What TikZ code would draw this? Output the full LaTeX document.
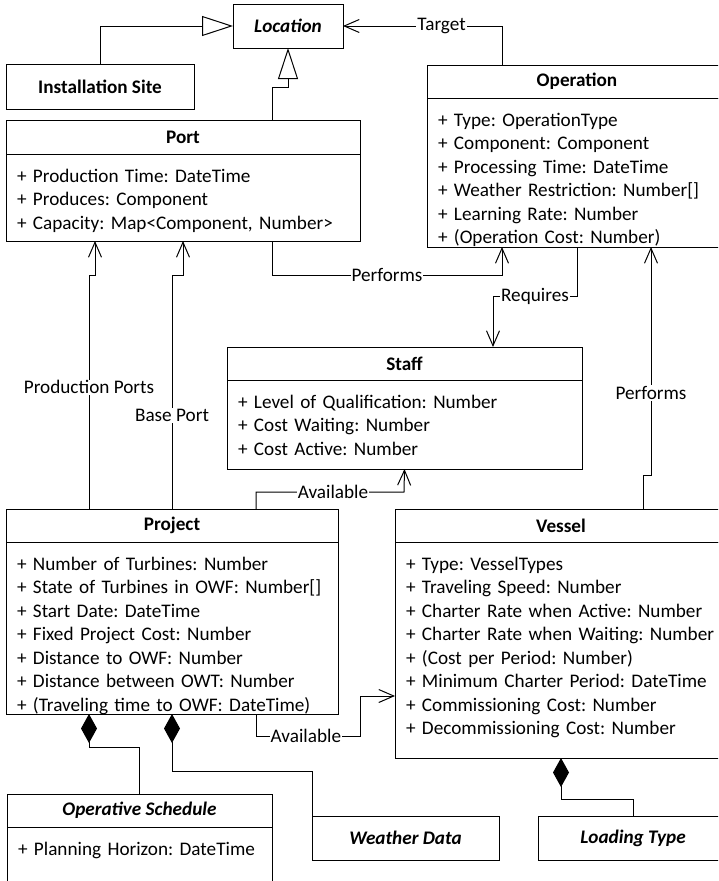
\documentclass[tikz,border=0pt]{standalone}
\usepackage{fontspec}
\setmainfont{Carlito}
\frenchspacing
\usetikzlibrary{positioning,arrows.meta}

\begin{document}
\begin{tikzpicture}[x=1pt, y=-1pt,
    uml/.style={draw, line width=1pt, outer sep=0pt, font=\fontsize{19.2pt}{23.5pt}\selectfont},
    head/.style={uml, anchor=north west, minimum height=33pt, font=\fontsize{19.2pt}{23.5pt}\selectfont\bfseries},
    abstract/.style={font=\fontsize{19.2pt}{23.5pt}\selectfont\bfseries\itshape},
    attr/.style={uml, align=left, inner xsep=11pt, inner ysep=0pt, text height=28pt,
        execute at begin node={\hyphenpenalty=10000\exhyphenpenalty=10000}},
    lbl/.style={fill=white, inner sep=1pt, font=\fontsize{19.2pt}{23.5pt}\selectfont},
    assoc/.style={line width=1pt, -{Straight Barb[length=15pt, width=13pt]}},
    gen/.style={line width=1pt, -{Triangle[open, length=31pt, width=20pt]}},
    comp/.style={line width=1pt, {Diamond[length=29pt, width=16pt]}-}]
    \useasboundingbox (0,0) rectangle (718,881);
    \clip (0,0) rectangle (718,881);

    % classes
    \node [head, abstract, minimum width=110pt, minimum height=44pt] (location) at (233,4) {Location};
    \node [head, minimum width=188pt, minimum height=45pt] (site) at (6,64) {Installation Site};

    \node [head, minimum width=354pt, minimum height=34pt] (port) at (6,120) {Port};
    \node [attr, below=0pt of port, text width=332pt, text depth=59pt] (portattr)
        {+ Production Time: DateTime\\+ Produces: Component\\+ Capacity: Map<Component, Number>};

    \node [head, minimum width=300pt] (operation) at (427,65) {Operation};
    \node [attr, below right=0pt of operation.south west, text width=300pt, text depth=121pt] (opattr)
        {+ Type: OperationType\\+ Component: Component\\+ Processing Time: DateTime\\+ Weather Restriction: Number[]\\+ Learning Rate: Number\\+ (Operation Cost: Number)};

    \node [head, minimum width=355pt] (staff) at (227,347) {Staff};
    \node [attr, below=0pt of staff, text width=333pt, text depth=61pt] (staffattr)
        {+ Level of Qualification: Number\\+ Cost Waiting: Number\\+ Cost Active: Number};

    \node [head, minimum width=332pt] (project) at (6,509) {Project};
    \node [attr, below=0pt of project, text width=310pt, text depth=144pt] (projattr)
        {+ Number of Turbines: Number\\+ State of Turbines in OWF: Number[]\\+ Start Date: DateTime\\+ Fixed Project Cost: Number\\+ Distance to OWF: Number\\+ Distance between OWT: Number\\+ (Traveling time to OWF: DateTime)};

    \node [head, minimum width=332pt] (vessel) at (395,509) {Vessel};
    \node [attr, below right=0pt of vessel.south west, text width=330pt, text depth=188pt] (vesselattr)
        {+ Type: VesselTypes\\+ Traveling Speed: Number\\+ Charter Rate when Active: Number\\+ Charter Rate when Waiting: Number\\+ (Cost per Period: Number)\\+ Minimum Charter Period: DateTime\\+ Commissioning Cost: Number\\+ Decommissioning Cost: Number};

    \node [head, abstract, minimum width=265pt] (schedule) at (7,794) {Operative Schedule};
    \node [attr, below=0pt of schedule, text width=243pt, text depth=60pt] (schedattr)
        {+ Planning Horizon: DateTime};

    \node [head, abstract, minimum width=187pt, minimum height=44pt] (weather) at (312,816) {Weather Data};
    \node [head, abstract, minimum width=190pt, minimum height=44pt] (loading) at (538,816) {Loading Type};

    % generalisations
    \draw [gen] (site.north) |- (location.west);
    \draw [gen] (port.north -| 272,0) -- (272,87) -| (location.south);

    % associations
    \draw [assoc] (operation.north -| 502,0) |- node [lbl, pos=0.69] (target) {Target} (location.east);
    \draw [assoc] (portattr.south -| 272,0) |- node [lbl, pos=0.75] (performs) {Performs} (502,275) -- (opattr.south -| 502,0);
    \draw [assoc] (opattr.south -| operation.south) |- node [lbl, pos=0.75] (requires) {Requires} (493,296) -- (staff.north -| 493,0);
    \draw [assoc] (project.north -| 89,0) -- node [lbl, pos=0.52] (prodports) {Production Ports} (89,275) -| (portattr.south -| 95,0);
    \draw [assoc] (project.north) -- node [lbl, pos=0.4] (baseport) {Base Port} (172,275) -| (portattr.south);
    \draw [assoc] (project.north -| 256,0) |- node [lbl, pos=0.76] (availstaff) {Available} (404,492) -- (staffattr.south);
    \draw [assoc] (projattr.south -| 256,0) |- node [lbl, pos=0.74] (availvessel) {Available} (360,736) |- (vesselattr.west |- 0,696);
    \draw [assoc] (vessel.north -| 643,0) -- (643,475) -| node [lbl, pos=0.68] (performsv) {Performs} (opattr.south -| 651,0);

    % compositions
    \draw [comp] (projattr.south -| 89,0) -- (89,747) -| (schedule.north);
    \draw [comp] (projattr.south) -- (172,771) -| (weather.north west);
    \draw [comp] (vesselattr.south -| vessel.south) -- (561,799) -| (loading.north);
\end{tikzpicture}
\end{document}
